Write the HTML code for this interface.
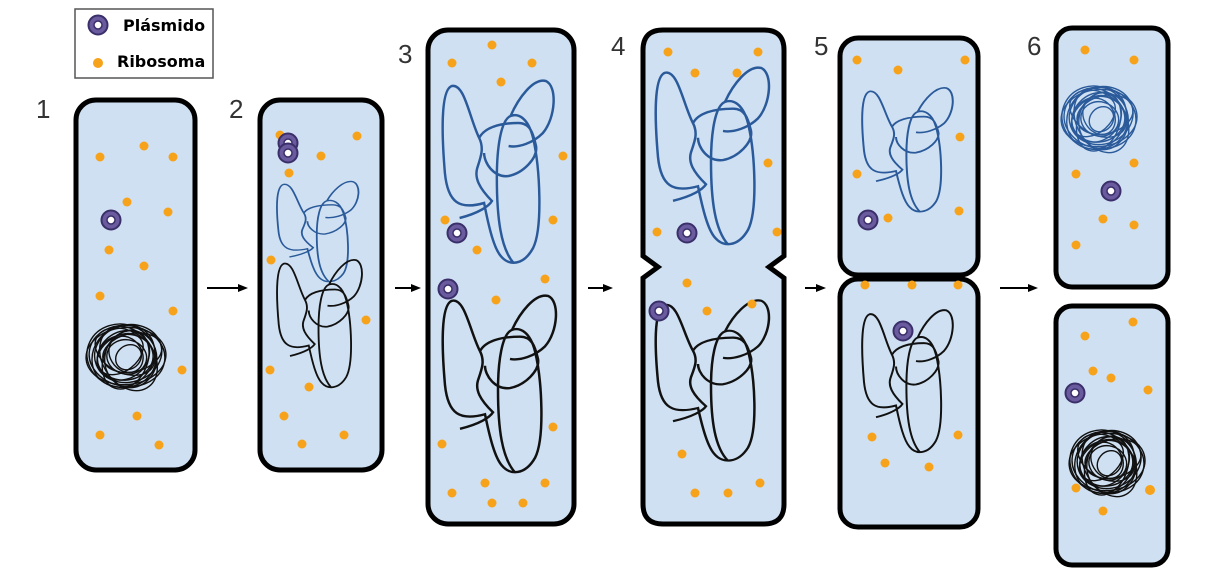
<!DOCTYPE html>
<html><head><meta charset="utf-8"><style>
html,body{margin:0;padding:0;background:#fff;width:1205px;height:579px;overflow:hidden}
svg{display:block}
.cell{fill:#cfe0f2;stroke:#000;stroke-width:5}
.r{fill:#f7a21b}
.num{font-family:"Liberation Sans",sans-serif;font-size:26px;fill:#333}
.lg{font-family:"DejaVu Sans","Liberation Sans",sans-serif;font-weight:bold;font-size:16px;fill:#000}
.dna{fill:none;stroke-width:2.5}
.dna path{vector-effect:non-scaling-stroke}
.ball ellipse{fill:none;vector-effect:non-scaling-stroke;stroke-width:1.4}
</style></head><body>
<svg width="1205" height="579" viewBox="0 0 1205 579" xmlns="http://www.w3.org/2000/svg">
<defs>
<path id="loop" d="M20,140 C40,135 50,128 53,123 C40,110 35,100 38,90 C42,78 45,70 40,60 C30,40 25,5 12,8 C0,12 2,60 5,95 C8,125 20,132 45,125 C50,150 55,170 62,178 C70,188 85,188 95,170 C105,150 102,90 95,60 C90,40 80,35 72,38 C62,42 58,70 58,100 C58,140 62,170 75,185 M40,60 C45,50 60,45 80,45 C92,45 95,55 98,68 C100,80 85,95 70,98 C55,100 45,85 45,75 M72,38 C80,20 95,0 108,3 C120,8 118,40 105,55 C95,65 80,70 70,68"/>
<g id="pl"><circle r="9.5" fill="#6a5a9e" stroke="#3b2f6a" stroke-width="2"/><circle r="4" fill="#fff" stroke="#3b2f6a" stroke-width="1.5"/></g>
<g id="ball" class="ball">
<ellipse cx="0" cy="0" rx="38" ry="32" transform="rotate(10)"/>
<ellipse cx="2" cy="-2" rx="34" ry="30" transform="rotate(-20)"/>
<ellipse cx="-3" cy="2" rx="30" ry="34" transform="rotate(35)"/>
<ellipse cx="3" cy="0" rx="36" ry="26" transform="rotate(60)"/>
<ellipse cx="-2" cy="-3" rx="28" ry="24" transform="rotate(-45)"/>
<ellipse cx="1" cy="2" rx="24" ry="28" transform="rotate(80)"/>
<ellipse cx="0" cy="1" rx="20" ry="18" transform="rotate(15)"/>
<ellipse cx="-4" cy="0" rx="32" ry="22" transform="rotate(-70)"/>
<ellipse cx="4" cy="3" rx="26" ry="30" transform="rotate(5)"/>
<ellipse cx="0" cy="-2" rx="16" ry="20" transform="rotate(-30)"/>
<ellipse cx="-1" cy="0" rx="40" ry="30" transform="rotate(-5)"/>
<ellipse cx="2" cy="0" rx="12" ry="14" transform="rotate(40)"/>
<ellipse cx="-5" cy="2" rx="35" ry="33" transform="rotate(25)"/>
<ellipse cx="3" cy="-4" rx="22" ry="32" transform="rotate(-60)"/>
<ellipse cx="6" cy="-2" rx="30" ry="20" transform="rotate(-15)"/>
<ellipse cx="-6" cy="4" rx="18" ry="26" transform="rotate(50)"/>
</g>
</defs>

<rect x="75" y="9" width="138" height="69" fill="#fff" stroke="#555" stroke-width="1.5"/>
<use href="#pl" x="98" y="25"/>
<text class="lg" x="123" y="31">Plásmido</text>
<circle class="r" cx="98" cy="63" r="5"/>
<text class="lg" x="117" y="67">Ribosoma</text>

<text class="num" x="36" y="118">1</text>
<text class="num" x="229" y="118">2</text>
<text class="num" x="398" y="63">3</text>
<text class="num" x="611" y="55">4</text>
<text class="num" x="814" y="55">5</text>
<text class="num" x="1027" y="55">6</text>

<g stroke="#000" stroke-width="2" fill="#000">
<line x1="207" y1="288" x2="240" y2="288"/><path d="M248,288 L238,284 L238,292Z" stroke="none"/>
<line x1="395" y1="288" x2="414" y2="288"/><path d="M421,288 L411,284 L411,292Z" stroke="none"/>
<line x1="588" y1="288" x2="606" y2="288"/><path d="M613,288 L603,284 L603,292Z" stroke="none"/>
<line x1="805" y1="288" x2="819" y2="288"/><path d="M826,288 L816,284 L816,292Z" stroke="none"/>
<line x1="1000" y1="288" x2="1030" y2="288"/><path d="M1038,288 L1028,284 L1028,292Z" stroke="none"/>
</g>

<rect class="cell" x="76" y="100" width="119" height="370" rx="20"/>
<rect class="cell" x="260" y="100" width="122" height="370" rx="20"/>
<rect class="cell" x="428" y="30" width="146" height="494" rx="20"/>
<path class="cell" d="M663,30 H764 Q784,30 784,50 V256 L769,267 L784,278 V504 Q784,524 764,524 H663 Q643,524 643,504 V278 L658,267 L643,256 V50 Q643,30 663,30 Z"/>
<rect class="cell" x="840" y="38" width="138" height="237" rx="18"/>
<rect class="cell" x="840" y="279" width="138" height="248" rx="18"/>
<rect class="cell" x="1056" y="28" width="112" height="259" rx="16"/>
<rect class="cell" x="1056" y="306" width="112" height="259" rx="16"/>

<g class="dna" stroke="#2a5a9a">
<use href="#loop" transform="translate(275,180) scale(0.72,0.55)"/>
<use href="#loop" transform="translate(440,78) scale(0.98,1)"/>
<use href="#loop" transform="translate(653,65) scale(1,0.97)"/>
<use href="#loop" transform="translate(860,86) scale(0.8,0.68)"/>
</g>
<g class="dna" stroke="#111">
<use href="#loop" transform="translate(275,258) scale(0.75,0.7)"/>
<use href="#loop" transform="translate(440,293) scale(1,0.97)"/>
<use href="#loop" transform="translate(653,298) scale(1,0.88)"/>
<use href="#loop" transform="translate(860,308) scale(0.8,0.78)"/>
</g>
<g stroke="#111"><use href="#ball" transform="translate(127,356) scale(1,0.95)"/></g>
<g stroke="#2a5a9a"><use href="#ball" transform="translate(1100,118) scale(0.95,0.95)"/></g>
<g stroke="#111"><use href="#ball" transform="translate(1108,462) scale(0.95,0.95)"/></g>

<g class="r">
<circle cx="100" cy="157" r="4.5"/><circle cx="144" cy="146" r="4.5"/><circle cx="173" cy="157" r="4.5"/><circle cx="127" cy="202" r="4.5"/><circle cx="168" cy="212" r="4.5"/><circle cx="109" cy="250" r="4.5"/><circle cx="144" cy="266" r="4.5"/><circle cx="100" cy="296" r="4.5"/><circle cx="173" cy="311" r="4.5"/><circle cx="182" cy="370" r="4.5"/><circle cx="137" cy="416" r="4.5"/><circle cx="100" cy="435" r="4.5"/><circle cx="159" cy="445" r="4.5"/>
<circle cx="280" cy="135" r="4.5"/><circle cx="357" cy="136" r="4.5"/><circle cx="321" cy="156" r="4.5"/><circle cx="289" cy="173" r="4.5"/><circle cx="271" cy="260" r="4.5"/><circle cx="270" cy="370" r="4.5"/><circle cx="309" cy="387" r="4.5"/><circle cx="284" cy="416" r="4.5"/><circle cx="366" cy="320" r="4.5"/><circle cx="302" cy="444" r="4.5"/><circle cx="344" cy="435" r="4.5"/>
<circle cx="492" cy="45" r="4.5"/><circle cx="452" cy="63" r="4.5"/><circle cx="532" cy="63" r="4.5"/><circle cx="501" cy="82" r="4.5"/><circle cx="563" cy="156" r="4.5"/><circle cx="445" cy="220" r="4.5"/><circle cx="553" cy="220" r="4.5"/><circle cx="477" cy="250" r="4.5"/><circle cx="545" cy="279" r="4.5"/><circle cx="496" cy="300" r="4.5"/><circle cx="553" cy="427" r="4.5"/><circle cx="442" cy="444" r="4.5"/><circle cx="485" cy="483" r="4.5"/><circle cx="545" cy="483" r="4.5"/><circle cx="452" cy="493" r="4.5"/><circle cx="492" cy="503" r="4.5"/><circle cx="523" cy="503" r="4.5"/>
<circle cx="668" cy="52" r="4.5"/><circle cx="758" cy="52" r="4.5"/><circle cx="695" cy="73" r="4.5"/><circle cx="737" cy="73" r="4.5"/><circle cx="768" cy="163" r="4.5"/><circle cx="657" cy="232" r="4.5"/><circle cx="777" cy="232" r="4.5"/><circle cx="687" cy="283" r="4.5"/><circle cx="707" cy="311" r="4.5"/><circle cx="752" cy="304" r="4.5"/><circle cx="682" cy="454" r="4.5"/><circle cx="760" cy="483" r="4.5"/><circle cx="695" cy="493" r="4.5"/><circle cx="728" cy="493" r="4.5"/>
<circle cx="857" cy="60" r="4.5"/><circle cx="898" cy="70" r="4.5"/><circle cx="965" cy="60" r="4.5"/><circle cx="960" cy="137" r="4.5"/><circle cx="857" cy="174" r="4.5"/><circle cx="888" cy="218" r="4.5"/><circle cx="959" cy="211" r="4.5"/>
<circle cx="865" cy="285" r="4.5"/><circle cx="912" cy="285" r="4.5"/><circle cx="958" cy="285" r="4.5"/><circle cx="872" cy="437" r="4.5"/><circle cx="958" cy="435" r="4.5"/><circle cx="885" cy="463" r="4.5"/><circle cx="929" cy="467" r="4.5"/>
<circle cx="1085" cy="50" r="4.5"/><circle cx="1134" cy="60" r="4.5"/><circle cx="1134" cy="163" r="4.5"/><circle cx="1076" cy="174" r="4.5"/><circle cx="1103" cy="219" r="4.5"/><circle cx="1134" cy="225" r="4.5"/><circle cx="1076" cy="245" r="4.5"/>
<circle cx="1133" cy="322" r="4.5"/><circle cx="1085" cy="336" r="4.5"/><circle cx="1093" cy="371" r="4.5"/><circle cx="1111" cy="378" r="4.5"/><circle cx="1148" cy="390" r="4.5"/><circle cx="1076" cy="488" r="4.5"/><circle cx="1150" cy="490" r="5"/><circle cx="1103" cy="511" r="4.5"/>
</g>

<use href="#pl" x="111" y="220"/>
<use href="#pl" x="288" y="143"/><use href="#pl" x="288" y="153"/>
<use href="#pl" x="457" y="233"/><use href="#pl" x="448" y="289"/>
<use href="#pl" x="687" y="233"/><use href="#pl" x="659" y="311"/>
<use href="#pl" x="868" y="220"/><use href="#pl" x="903" y="331"/>
<use href="#pl" x="1111" y="191"/><use href="#pl" x="1075" y="393"/>
</svg>
</body></html>
